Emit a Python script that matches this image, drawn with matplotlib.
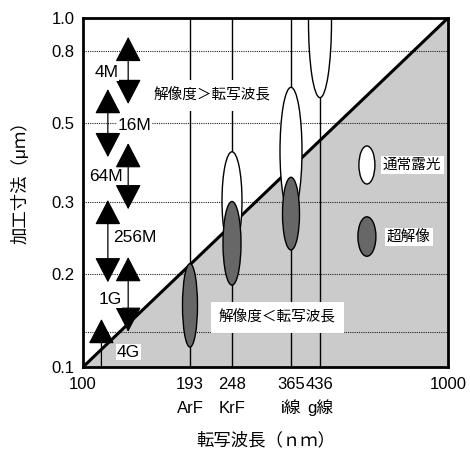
import numpy as np
import matplotlib
matplotlib.use('Agg')
import matplotlib.pyplot as plt
from matplotlib.patches import Ellipse, FancyArrowPatch
from matplotlib.ticker import NullLocator

plt.rcParams['font.family'] = ['Liberation Sans', 'Noto Sans CJK JP']

# ---- data ----
wavelengths = [193, 248, 365, 436]
wave_names = ['ArF', 'KrF', 'i線', 'g線']

# 通常露光 (white ellipses): wavelength, lower / upper size (um)
normal_wl = [248, 365, 436]
normal_lo = [0.229, 0.279, 0.590]
normal_hi = [0.415, 0.631, 1.64]

# 超解像 (dark ellipses)
super_wl = [193, 248, 365]
super_lo = [0.116, 0.184, 0.229]
super_hi = [0.212, 0.301, 0.352]

# DRAM generations (arrow ranges, um)
dram_names = ['4M', '16M', '64M', '256M', '1G', '4G']
dram_hi = [0.88, 0.624, 0.439, 0.304, 0.220, 0.143]
dram_lo = [0.566, 0.401, 0.288, 0.188, 0.130, 0.10]
dram_x = [132, 116.5, 132, 116.5, 132, 112]

yticks = [0.1, 0.2, 0.3, 0.5, 0.8, 1.0]
ygrid = [0.13, 0.2, 0.3, 0.5, 0.8]
xticks = [100, 193, 248, 365, 436, 1000]

# ---- axis calibration of the hand drawn log scales ----
x_cal = np.log10([50, 100, 193, 248, 365, 436, 1000, 2000])
x_pos = np.array([-110, 0, 107, 149, 208, 237, 365, 475], float)
y_cal = np.log10([0.05, 0.1, 0.2, 0.3, 0.5, 0.8, 1.0, 2.0])
y_pos = np.array([-93, 0, 93, 165, 244, 316, 349, 451], float)


def make_scale(cal, pos):
    def fwd(v):
        v = np.clip(np.asarray(v, float), 1e-6, None)
        return np.interp(np.log10(v), cal, pos)

    def inv(p):
        return 10 ** np.interp(np.asarray(p, float), pos, cal)
    return fwd, inv


fig = plt.figure(figsize=(4.7, 4.5), dpi=100)
ax = fig.add_axes([83/470, 1-367/450, 365/470, 349/450])
ax.set_xscale('function', functions=make_scale(x_cal, x_pos))
ax.set_yscale('function', functions=make_scale(y_cal, y_pos))
ax.set_xlim(100, 1000)
ax.set_ylim(0.1, 1.0)

to_ax = ax.transData + ax.transAxes.inverted()

# shaded region (解像度<転写波長)
ax.fill([100, 1000, 1000], [0.1, 1.0, 0.1], color='#cbcbcb', lw=0, zorder=0)

for g in ygrid:
    ax.axhline(g, color='#222222', lw=0.8, ls=(0, (1, 1)), zorder=1)
for w in wavelengths:
    ax.axvline(w, color='black', lw=1.0, zorder=1.5)

ax.plot([100, 1000], [0.1, 1.0], color='black', lw=2.2, zorder=2, solid_capstyle='butt')


def add_ellipse(x, lo, hi, w_px, fc):
    cx, y0 = to_ax.transform((x, lo))
    _, y1 = to_ax.transform((x, hi))
    ax.add_patch(Ellipse((cx, (y0 + y1) / 2), w_px / 365, y1 - y0,
                         transform=ax.transAxes, fc=fc, ec='black', lw=1.0, zorder=4))


for x, lo, hi, w in zip(normal_wl, normal_lo, normal_hi, [20, 22, 23]):
    add_ellipse(x, lo, hi, w, 'white')
for x, lo, hi, w in zip(super_wl, super_lo, super_hi, [15, 18, 17]):
    add_ellipse(x, lo, hi, w, '#676767')

# legend
add_ellipse(591, 0.337, 0.431, 16, 'white')
add_ellipse(591, 0.221, 0.276, 18, '#676767')
ax.text(656, 0.381, '通常露光', fontsize=10.5, va='center', ha='left', zorder=6,
        bbox=dict(fc='white', ec='none', pad=1.5))
ax.text(673, 0.246, '超解像', fontsize=10.5, va='center', ha='left', zorder=6,
        bbox=dict(fc='white', ec='none', pad=1.5))

# region labels
ax.text(154.7, 0.600, '解像度＞転写波長', fontsize=10.5, va='center', ha='left', zorder=6,
        bbox=dict(fc='white', ec='none', pad=6))
ax.text(229.5, 0.1451, '解像度＜転写波長', fontsize=10.5, va='center', ha='left', zorder=6,
        bbox=dict(fc='white', ec='none', pad=6))

# DRAM arrows
label_off = [(-22, 2), (27, 2), (-22, 0), (27, -4), (-18, 5), (27, 9)]
for name, x, lo, hi, (dx, dy) in zip(dram_names, dram_x, dram_lo, dram_hi, label_off):
    style = '-|>' if lo <= 0.1 else '<|-|>'
    arr = FancyArrowPatch((x, lo), (x, hi), arrowstyle=style + ',head_length=16,head_width=8.3',
                          mutation_scale=1, shrinkA=0, shrinkB=0, color='black', lw=0.9, zorder=5)
    ax.add_patch(arr)
    ax_, y0 = to_ax.transform((x, lo))
    _, y1 = to_ax.transform((x, hi))
    ax.text(ax_ + dx / 365, (y0 + y1) / 2 - dy / 349, name, transform=ax.transAxes,
            fontsize=12.5, ha='center', va='center', zorder=6,
            bbox=dict(fc='white', ec='none', pad=0.5))

# axes styling
ax.set_xticks(xticks)
ax.set_xticklabels([str(t) for t in xticks], fontsize=12)
ax.set_yticks(yticks)
ax.set_yticklabels(['%.1f' % t for t in yticks], fontsize=12)
ax.xaxis.set_minor_locator(NullLocator())
ax.yaxis.set_minor_locator(NullLocator())
ax.tick_params(length=0)
ax.tick_params(axis='x', pad=7)
ax.tick_params(axis='y', pad=6)
for s in ax.spines.values():
    s.set_linewidth(2.0)
    s.set_zorder(7)

# light source names under the wavelength ticks
for w, nm in zip(wavelengths, wave_names):
    ax.text(w, -0.133, nm, transform=ax.get_xaxis_transform(), fontsize=12,
            ha='center', va='baseline')

ax.set_xlabel('転写波長（ｎｍ）', fontsize=12.5)
ax.set_ylabel('加工寸法（μｍ）', fontsize=12.5)
ax.xaxis.set_label_coords(0.5, -0.185)
ax.yaxis.set_label_coords(-0.15, 0.54)

fig.savefig('out.png', dpi=100)
